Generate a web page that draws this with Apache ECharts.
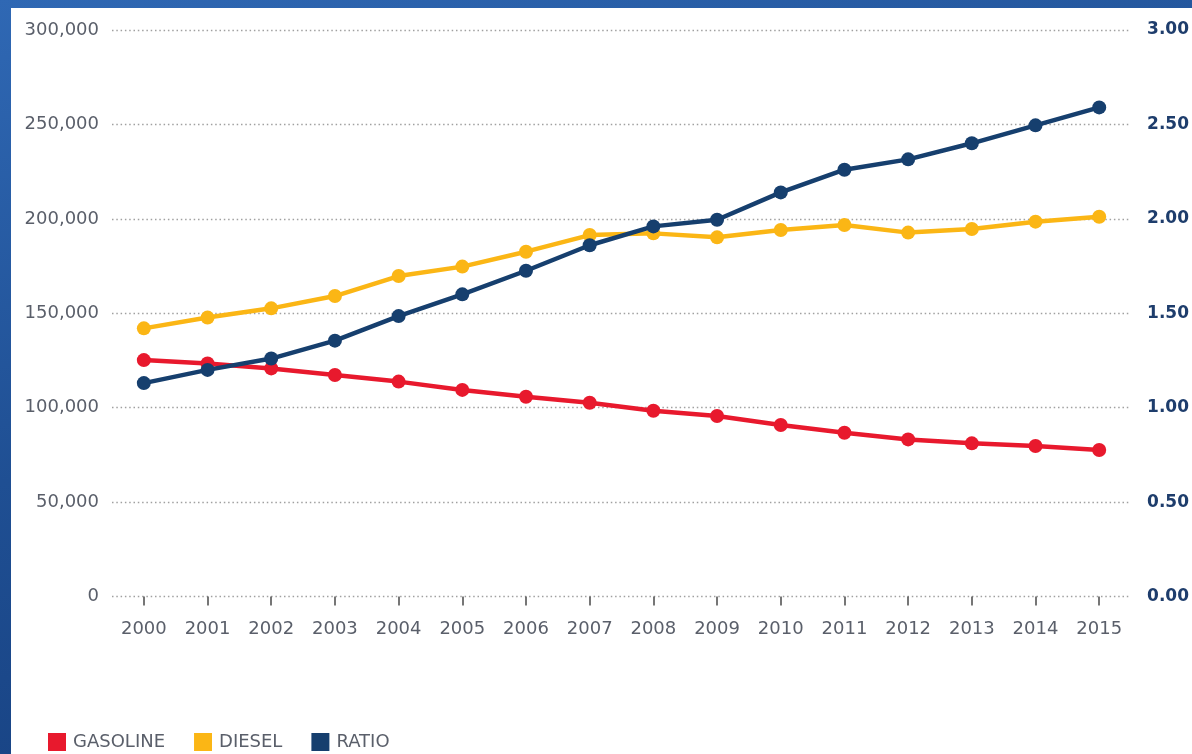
<!DOCTYPE html>
<html>
<head>
<meta charset="utf-8">
<title>Gasoline and diesel, 2000-2015</title>
<script src="https://cdn.jsdelivr.net/npm/echarts@6/dist/echarts.min.js"></script>
<style>
  html, body { margin: 0; padding: 0; width: 1192px; height: 754px; overflow: hidden; }
  body { background: linear-gradient(165deg, #2f68b4 0%, #1f4f93 45%, #133a78 100%); position: relative; }
  #chart { position: absolute; left: 11px; top: 8px; width: 1181px; height: 746px; background: #ffffff; }
</style>
</head>
<body>
<div id="chart"></div>
<script>
// Years on the category axis
const years = ['2000', '2001', '2002', '2003', '2004', '2005', '2006', '2007',
               '2008', '2009', '2010', '2011', '2012', '2013', '2014', '2015'];

// Gasoline volume (left axis)
const gasoline = [125200, 123400, 120800, 117300, 113800, 109400, 105800, 102600,
                  98400, 95600, 90800, 86700, 83200, 81100, 79700, 77600];

// Diesel volume (left axis)
const diesel = [142000, 147700, 152600, 159100, 169700, 174700, 182600, 191400,
                192300, 190200, 194100, 196700, 192700, 194600, 198500, 201100];

// Diesel / gasoline ratio (right axis)
const ratio = [1.13, 1.20, 1.26, 1.355, 1.485, 1.60, 1.725, 1.86,
               1.96, 1.995, 2.14, 2.26, 2.315, 2.40, 2.495, 2.59];

const seriesNames = ['GASOLINE', 'DIESEL', 'RATIO'];
const colors = ['#e8192d', '#fbb615', '#163f6e'];

const font = 'DejaVu Sans, Liberation Sans, sans-serif';

const chart = echarts.init(document.getElementById('chart'), null, { renderer: 'canvas' });

function lineSeries(name, data, color, yAxisIndex, z) {
  return {
    name: name,
    type: 'line',
    yAxisIndex: yAxisIndex,
    data: data,
    z: z,
    symbol: 'circle',
    symbolSize: 14,
    lineStyle: { width: 4.5, color: color },
    itemStyle: { color: color },
    emphasis: { disabled: true },
    animation: false
  };
}

chart.setOption({
  animation: false,
  color: colors,
  grid: { left: 101, right: 60, top: 22, bottom: 157.5, containLabel: false },
  legend: {
    left: 37,
    top: 725,
    padding: 0,
    icon: 'rect',
    itemWidth: 18,
    itemHeight: 18,
    itemGap: 29,
    selectedMode: false,
    textStyle: { fontFamily: font, fontSize: 18, color: '#5a5f6a', padding: [0, 0, 0, 2] },
    data: seriesNames
  },
  xAxis: {
    type: 'category',
    data: years,
    boundaryGap: true,
    offset: 8,
    axisLine: { show: false },
    axisTick: { show: true, alignWithLabel: true, length: 9, lineStyle: { color: '#4a4a4a', width: 1.5 } },
    axisLabel: { margin: 16, fontFamily: font, fontSize: 18, color: '#5a5f6a' },
    splitLine: { show: false }
  },
  yAxis: [
    {
      type: 'value',
      min: 0,
      max: 300000,
      interval: 50000,
      axisLine: { show: false },
      axisTick: { show: false },
      axisLabel: {
        margin: 13,
        fontFamily: font,
        fontSize: 18,
        color: '#5a5f6a',
        formatter: v => v.toLocaleString('en-US')
      },
      splitLine: { show: true, lineStyle: { color: '#a0a0a0', width: 1.3, type: [1.5, 2.8] } }
    },
    {
      type: 'value',
      min: 0,
      max: 3,
      interval: 0.5,
      position: 'right',
      axisLine: { show: false },
      axisTick: { show: false },
      axisLabel: {
        margin: 16,
        fontFamily: font,
        fontSize: 17,
        fontWeight: 'bold',
        color: '#1e3d6c',
        formatter: v => v.toFixed(2)
      },
      splitLine: { show: false }
    }
  ],
  series: [
    lineSeries(seriesNames[0], gasoline, colors[0], 0, 2),
    lineSeries(seriesNames[1], diesel, colors[1], 0, 3),
    lineSeries(seriesNames[2], ratio, colors[2], 1, 4)
  ]
});
</script>
</body>
</html>
